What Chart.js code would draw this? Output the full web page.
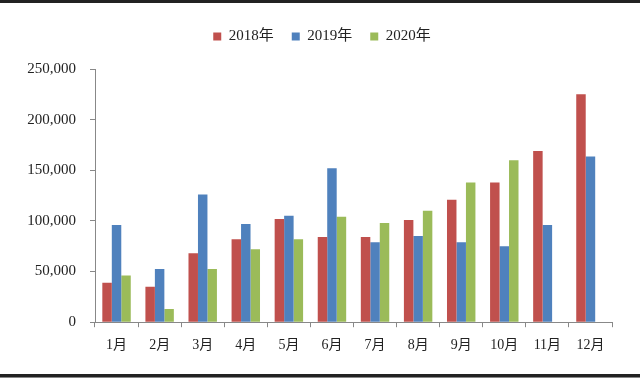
<!DOCTYPE html>
<html>
<head>
<meta charset="utf-8">
<script src="https://cdn.jsdelivr.net/npm/chart.js@4/dist/chart.umd.min.js"></script>
<style>
html,body{margin:0;padding:0;background:#fff;}
#wrap{position:relative;width:640px;height:378px;}
</style>
</head>
<body>
<div id="wrap"><canvas id="c" width="640" height="378"></canvas></div>
<script>
const categories = ['1月','2月','3月','4月','5月','6月','7月','8月','9月','10月','11月','12月'];
const seriesNames = ['2018年','2019年','2020年'];
const values2018 = [39000, 35000, 68000, 82000, 102000, 84000, 84000, 101000, 121000, 138000, 169000, 225000];
const values2019 = [96000, 52500, 126000, 97000, 105000, 152000, 79000, 85000, 79000, 75000, 96000, 163500];
const values2020 = [46000, 13000, 52500, 72000, 82000, 104000, 98000, 110000, 138000, 160000, null, null];
const yTicks = [0, 50000, 100000, 150000, 200000, 250000];

const colors = ['#C0504D', '#4F81BD', '#9BBB59'];
const serif = "'Liberation Serif', 'Times New Roman', 'Noto Sans CJK SC', serif";

const borderPlugin = {
  id: 'frameLines',
  afterDraw(chart) {
    const ctx = chart.ctx;
    ctx.save();
    ctx.fillStyle = '#222';
    ctx.fillRect(0, 0, 640, 3);
    ctx.fillRect(0, 374, 640, 3);
    ctx.fillStyle = '#888';
    ctx.fillRect(0, 377, 640, 1);
    ctx.restore();
  }
};

const legendShift = {
  id: 'legendShift',
  beforeLayout(chart) {
    const lg = chart.legend;
    if (lg && !lg._wrapped) {
      const orig = lg.fit;
      lg.fit = function() { orig.call(this); this.height += 15; };
      lg._wrapped = true;
    }
  },
  afterLayout(chart) {
    const lg = chart.legend;
    if (lg) { lg.left += 16; lg.right += 16; }
  }
};

new Chart(document.getElementById('c'), {
  type: 'bar',
  data: {
    labels: categories,
    datasets: [
      { label: seriesNames[0], data: values2018, backgroundColor: colors[0] },
      { label: seriesNames[1], data: values2019, backgroundColor: colors[1] },
      { label: seriesNames[2], data: values2020, backgroundColor: colors[2] }
    ]
  },
  options: {
    responsive: false,
    animation: false,
    layout: { padding: { top: 11, right: 28, left: 0, bottom: 14 } },
    datasets: { bar: { categoryPercentage: 0.66, barPercentage: 1.0 } },
    plugins: {
      legend: {
        position: 'top',
        labels: {
          boxWidth: 8, boxHeight: 8, padding: 18,
          color: '#222',
          font: { family: serif, size: 15 }
        }
      },
      tooltip: { enabled: false }
    },
    scales: {
      x: {
        grid: { display: true, drawOnChartArea: false, tickLength: 5, color: '#888', offset: true },
        border: { color: '#888', width: 1 },
        ticks: { color: '#222', font: { family: serif, size: 14 }, padding: 10, maxRotation: 0, autoSkip: false }
      },
      y: {
        min: 0, max: 250000,
        afterBuildTicks(scale) { scale.ticks = yTicks.map(v => ({ value: v })); },
        afterFit(scale) { scale.width = 95; },
        grid: { display: true, drawOnChartArea: false, tickLength: 5, color: '#888' },
        border: { color: '#888', width: 1 },
        ticks: {
          color: '#222', padding: 14,
          font: { family: serif, size: 15 },
          callback: v => v.toLocaleString('en-US')
        }
      }
    }
  },
  plugins: [borderPlugin, legendShift]
});
</script>
</body>
</html>
